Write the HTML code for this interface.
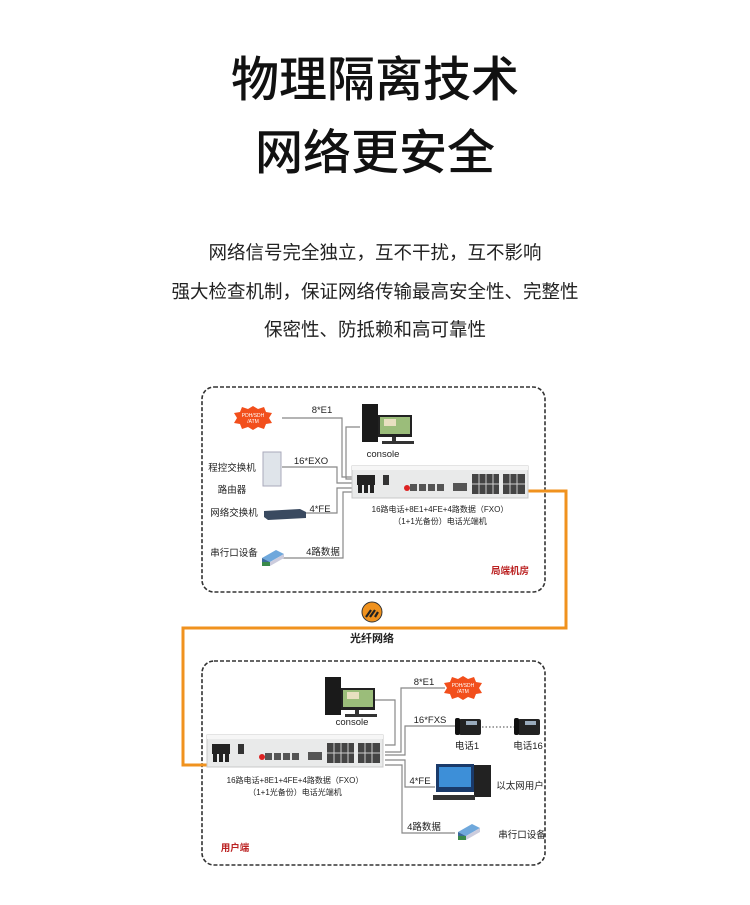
<!DOCTYPE html>
<html><head><meta charset="utf-8"><style>
html,body{margin:0;padding:0;background:#fff;}
body{width:750px;height:900px;overflow:hidden;font-family:"Liberation Sans","Noto Sans CJK SC",sans-serif;}
</style></head><body>
<svg width="750" height="900" viewBox="0 0 750 900" xmlns="http://www.w3.org/2000/svg" font-family="Liberation Sans, Noto Sans CJK SC, sans-serif">
<defs>
<g id="dev">
  <rect x="0" y="0" width="176" height="32" fill="#e9eaea" stroke="#c8c8c8"/>
  <rect x="0" y="0" width="176" height="4" fill="#f6f6f6"/>
  <rect x="5" y="9" width="18" height="10" fill="#222"/>
  <rect x="6" y="19" width="4" height="8" fill="#222"/><rect x="12" y="19" width="4" height="8" fill="#222"/><rect x="18" y="19" width="4" height="8" fill="#222"/>
  <rect x="31" y="9" width="6" height="10" fill="#333"/>
  <circle cx="55" cy="22" r="3" fill="#d22"/>
  <rect x="58" y="18" width="7" height="7" fill="#555"/>
  <rect x="67" y="18" width="7" height="7" fill="#555"/><rect x="76" y="18" width="7" height="7" fill="#555"/><rect x="85" y="18" width="7" height="7" fill="#555"/>
  <rect x="101" y="17" width="14" height="8" fill="#555"/>
  <rect x="120" y="8" width="27" height="20" fill="#444"/>
  <rect x="151" y="8" width="22" height="20" fill="#444"/>
  <path d="M120 18h27M151 18h22M127 8v20M134 8v20M141 8v20M158 8v20M165 8v20" stroke="#ccc" stroke-width="1"/>
</g>
<g id="pc">
  <rect x="0" y="0" width="16" height="38" fill="#1a1a1a"/>
  <rect x="16" y="11" width="34" height="22" fill="#222"/>
  <rect x="18" y="13" width="30" height="17" fill="#9bbd7a"/>
  <rect x="22" y="15" width="12" height="7" fill="#e8e0c0"/>
  <rect x="30" y="33" width="4" height="4" fill="#333"/>
  <rect x="20" y="37" width="32" height="3" fill="#333"/>
</g>
<g id="pdh">
  <polygon points="0,-12 5,-9 11,-11 13,-6 19,-5 16,0 19,5 13,6 11,11 5,9 0,12 -5,9 -11,11 -13,6 -19,5 -16,0 -19,-5 -13,-6 -11,-11 -5,-9" fill="#f24f1c"/>
  <text x="0" y="-1" font-size="5" fill="#fff" text-anchor="middle">PDH/SDH</text>
  <text x="0" y="5" font-size="5" fill="#fff" text-anchor="middle">/ATM</text>
</g>
<g id="phone">
  <rect x="-10" y="-8" width="22" height="16" fill="#222" rx="2"/>
  <rect x="-3" y="-6" width="11" height="4" fill="#9ab"/>
  <rect x="-14" y="-9" width="5" height="17" fill="#111" rx="2"/>
</g>
<g id="ser">
  <polygon points="0,6 14,-2 22,2 8,10" fill="#6fa8dc"/>
  <polygon points="0,6 8,10 8,14 0,10" fill="#3a6a9a"/>
  <polygon points="8,10 22,2 22,6 8,14" fill="#ccd"/>
  <rect x="0" y="10" width="8" height="4" fill="#3a8a4a"/>
</g>
</defs>

<text x="375" y="96" font-size="48" font-weight="500" text-anchor="middle" fill="#111">物理隔离技术</text>
<text x="375" y="169" font-size="48" font-weight="500" text-anchor="middle" fill="#111">网络更安全</text>
<text x="375" y="259" font-size="18.5" text-anchor="middle" fill="#222">网络信号完全独立，互不干扰，互不影响</text>
<text x="375" y="298" font-size="18.5" text-anchor="middle" fill="#222">强大检查机制，保证网络传输最高安全性、完整性</text>
<text x="375" y="336" font-size="18.5" text-anchor="middle" fill="#222">保密性、防抵赖和高可靠性</text>

<rect x="202" y="387" width="343" height="205" rx="12" fill="none" stroke="#333" stroke-width="1.6" stroke-dasharray="4,2"/>
<rect x="202" y="661" width="343" height="204" rx="12" fill="none" stroke="#333" stroke-width="1.6" stroke-dasharray="4,2"/>

<path d="M527 491 H566 V628 H183 V765 H207" fill="none" stroke="#f0921e" stroke-width="3"/>
<circle cx="372" cy="612" r="10" fill="#f0921e" stroke="#333" stroke-width="1"/>
<path d="M366 617 l5 -7 M370 617 l5 -7 M375 617 l3 -5" stroke="#222" stroke-width="2.2"/>
<text x="372" y="642" font-size="11" font-weight="bold" text-anchor="middle" fill="#222">光纤网络</text>

<g fill="none" stroke="#888" stroke-width="1.2">
<path d="M282 418 H342 V477 H352"/>
<path d="M360 427 H346 V479 H352"/>
<path d="M282 467 H337 V483 H352"/>
<path d="M306 513 H337 V488 H352"/>
<path d="M282 558 H343 V492 H352"/>
</g>
<use href="#pdh" x="253" y="418"/>
<text x="322" y="413" font-size="9.5" text-anchor="middle" fill="#222">8*E1</text>
<rect x="263" y="452" width="18" height="34" fill="#dfe4ea" stroke="#aab"/>
<text x="232" y="471" font-size="9.5" text-anchor="middle" fill="#222">程控交换机</text>
<text x="311" y="464" font-size="9.5" text-anchor="middle" fill="#222">16*EXO</text>
<text x="232" y="493" font-size="9.5" text-anchor="middle" fill="#222">路由器</text>
<text x="234" y="516" font-size="9.5" text-anchor="middle" fill="#222">网络交换机</text>
<polygon points="264,511 300,509 306,512 306,518 268,520 264,517" fill="#3a4a60"/>
<text x="320" y="512" font-size="9.5" text-anchor="middle" fill="#222">4*FE</text>
<text x="234" y="556" font-size="9.5" text-anchor="middle" fill="#222">串行口设备</text>
<use href="#ser" x="262" y="552"/>
<text x="323" y="555" font-size="9.5" text-anchor="middle" fill="#222">4路数据</text>
<use href="#pc" x="362" y="404"/>
<text x="383" y="457" font-size="9.5" text-anchor="middle" fill="#222">console</text>
<use href="#dev" x="352" y="466"/>
<text x="440" y="512" font-size="8" text-anchor="middle" fill="#222">16路电话+8E1+4FE+4路数据（FXO）</text>
<text x="440" y="524" font-size="8" text-anchor="middle" fill="#222">（1+1光备份）电话光端机</text>
<text x="510" y="574" font-size="9.5" font-weight="bold" text-anchor="middle" fill="#b22">局端机房</text>

<g fill="none" stroke="#888" stroke-width="1.2">
<path d="M372 700 H395 V745 H385"/>
<path d="M445 688 H401 V752 H385"/>
<path d="M455 726 H405 V755 H385"/>
<path d="M435 787 H405 V760 H385"/>
<path d="M455 833 H402 V765 H385"/>
</g>
<use href="#pc" x="325" y="677"/>
<text x="352" y="725" font-size="9.5" text-anchor="middle" fill="#222">console</text>
<use href="#dev" x="207" y="735"/>
<text x="295" y="783" font-size="8" text-anchor="middle" fill="#222">16路电话+8E1+4FE+4路数据（FXO）</text>
<text x="295" y="795" font-size="8" text-anchor="middle" fill="#222">（1+1光备份）电话光端机</text>
<text x="424" y="685" font-size="9.5" text-anchor="middle" fill="#222">8*E1</text>
<use href="#pdh" x="463" y="688"/>
<text x="430" y="723" font-size="9.5" text-anchor="middle" fill="#222">16*FXS</text>
<use href="#phone" x="469" y="727"/>
<line x1="482" y1="727" x2="514" y2="727" stroke="#444" stroke-dasharray="1.5,2"/>
<use href="#phone" x="528" y="727"/>
<text x="467" y="749" font-size="9.5" text-anchor="middle" fill="#222">电话1</text>
<text x="528" y="749" font-size="9.5" text-anchor="middle" fill="#222">电话16</text>
<text x="420" y="784" font-size="9.5" text-anchor="middle" fill="#222">4*FE</text>
<rect x="436" y="764" width="38" height="28" fill="#1a3a6a"/>
<rect x="439" y="767" width="32" height="20" fill="#3d8fd8"/>
<rect x="474" y="765" width="17" height="32" fill="#222"/>
<rect x="433" y="795" width="42" height="5" fill="#333"/>
<text x="520" y="789" font-size="9.5" text-anchor="middle" fill="#222">以太网用户</text>
<text x="424" y="830" font-size="9.5" text-anchor="middle" fill="#222">4路数据</text>
<use href="#ser" x="458" y="826"/>
<text x="522" y="838" font-size="9.5" text-anchor="middle" fill="#222">串行口设备</text>
<text x="235" y="851" font-size="9.5" font-weight="bold" text-anchor="middle" fill="#b22">用户端</text>
</svg>
</body></html>
